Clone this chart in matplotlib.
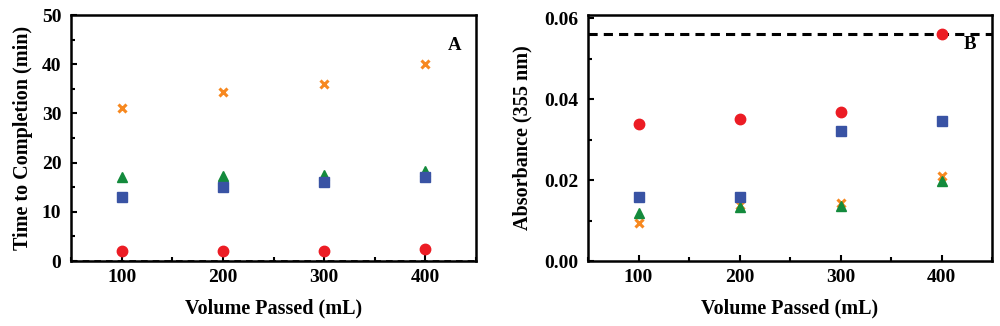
import matplotlib
matplotlib.use("Agg")
import matplotlib.pyplot as plt
from matplotlib.ticker import MultipleLocator, FormatStrFormatter

plt.rcParams['font.family'] = ['Liberation Serif', 'DejaVu Serif']
plt.rcParams['font.weight'] = 'bold'

volume = [100, 200, 300, 400]

# Panel A: time to completion (min)
time_circle = [2.0, 2.0, 2.1, 2.4]
time_square = [13.1, 15.0, 16.1, 17.0]
time_triangle = [17.0, 17.3, 17.5, 18.2]
time_cross = [31.0, 34.3, 36.0, 40.0]
time_ref = 0.0

# Panel B: absorbance (355 nm)
abs_circle = [0.0338, 0.0352, 0.0369, 0.0562]
abs_square = [0.0159, 0.0159, 0.0321, 0.0347]
abs_triangle = [0.0118, 0.0134, 0.0136, 0.0198]
abs_cross = [0.0095, 0.0138, 0.0143, 0.0210]
abs_ref = 0.0562

RED = '#ec1c24'
BLUE = '#3953a4'
GREEN = '#138a3c'
ORANGE = '#f7881f'

fig = plt.figure(figsize=(10, 3.26), dpi=100)
axA = fig.add_axes([0.071, 65/326, 0.405, 246/326])
axB = fig.add_axes([0.588, 65/326, 0.404, 246/326])

def style(ax):
    for s in ax.spines.values():
        s.set_linewidth(1.8)
    ax.tick_params(which='both', direction='in', top=False, right=False,
                   labelsize=14, width=1.5)
    ax.tick_params(which='major', length=4)
    ax.tick_params(which='minor', length=3)
    ax.tick_params(axis='x', pad=6)
    ax.tick_params(axis='y', pad=7)
    for lab in ax.get_xticklabels() + ax.get_yticklabels():
        lab.set_fontweight('bold')

def plot_series(ax, c, s, t, x):
    ax.plot(volume, x, linestyle='none', marker='x', color=ORANGE, markersize=5.5,
            markeredgewidth=2.2, zorder=3)
    ax.plot(volume, t, linestyle='none', marker='^', color=GREEN, markersize=7.5, zorder=3)
    ax.plot(volume, s, linestyle='none', marker='s', color=BLUE, markersize=7, zorder=4)
    ax.plot(volume, c, linestyle='none', marker='o', color=RED, markersize=7.5, zorder=5)

# Panel A
axA.axhline(time_ref, color='black', linestyle='--', linewidth=1.2, dashes=(4, 3), zorder=2)
plot_series(axA, time_circle, time_square, time_triangle, time_cross)
axA.set_xlim(50, 450)
axA.set_ylim(0, 50)
axA.xaxis.set_major_locator(MultipleLocator(100))
axA.xaxis.set_minor_locator(MultipleLocator(50))
axA.yaxis.set_major_locator(MultipleLocator(10))
axA.yaxis.set_minor_locator(MultipleLocator(5))
axA.set_xlabel('Volume Passed (mL)', fontsize=14.5, fontweight='bold', labelpad=9)
axA.set_ylabel('Time to Completion (min)', fontsize=14.5, fontweight='bold', labelpad=6)
axA.text(429, 43.9, 'A', fontsize=13.5, fontweight='bold', ha='center', va='center')
style(axA)

# Panel B
axB.axhline(abs_ref, color='black', linestyle='--', linewidth=2.2, dashes=(3, 2), zorder=2)
plot_series(axB, abs_circle, abs_square, abs_triangle, abs_cross)
axB.set_xlim(50, 450)
axB.set_ylim(0, 0.0608)
axB.xaxis.set_major_locator(MultipleLocator(100))
axB.xaxis.set_minor_locator(MultipleLocator(50))
axB.yaxis.set_major_locator(MultipleLocator(0.02))
axB.yaxis.set_minor_locator(MultipleLocator(0.01))
axB.yaxis.set_major_formatter(FormatStrFormatter('%.2f'))
axB.set_xlabel('Volume Passed (mL)', fontsize=14.5, fontweight='bold', labelpad=9)
axB.set_ylabel('Absorbance (355 nm)', fontsize=14.5, fontweight='bold', labelpad=8)
axB.text(428, 0.0535, 'B', fontsize=13.5, fontweight='bold', ha='center', va='center')
style(axB)

fig.savefig('out.png', dpi=100)
